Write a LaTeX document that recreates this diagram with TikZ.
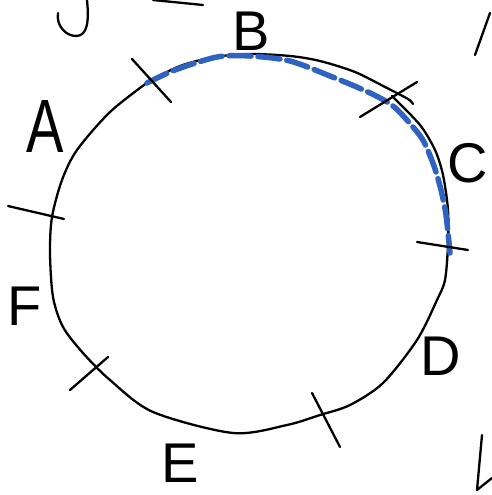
\documentclass[tikz,border=0pt]{standalone}
\usepackage{fontspec}
\setmainfont{Liberation Sans}
\definecolor{penblue}{HTML}{3063C0}
\tikzset{
  pen/.style={draw=black, line width=2.3pt, line cap=round, line join=round},
  bluepen/.style={draw=penblue, line width=5.5pt, line cap=round, line join=round, dash pattern=on 22pt off 7pt},
  lbl/.style={font=\fontsize{56}{56}\selectfont, inner sep=0pt}
}
\begin{document}
\begin{tikzpicture}[x=1pt,y=-1pt]
\useasboundingbox (0,0) rectangle (492,495);
% circle strokes
\draw[pen] plot[smooth] coordinates {(148,82) (180,66) (215,57) (250,54) (290,56) (320,61) (355,72) (385,87) (408,99) (413,104)};
\draw[pen] plot[smooth] coordinates {(392,96) (420,125) (435,150) (443,175) (448,210) (448,245) (445,280) (437,300) (417,340) (383,383) (350,405) (320,415) (287,425) (233,433) (153,412) (110,380) (83,353) (63,327) (53,297) (50,253) (52,217) (62,180) (77,150) (110,112) (148,82)};
% blue highlighted arc
\draw[bluepen] plot[smooth] coordinates {(147,83) (175,70) (217,57) (250,56) (290,61) (330,76) (368,92) (393,106) (413,127) (424,142) (434,166) (441,190) (446,215) (450,253)};
% ticks
\coordinate (t1a) at (132,59); \coordinate (t1b) at (171,102);
\coordinate (t2a) at (360,117); \coordinate (t2b) at (417,82);
\coordinate (t3a) at (417,242); \coordinate (t3b) at (468,250);
\coordinate (t4a) at (312,393); \coordinate (t4b) at (340,447);
\coordinate (t5a) at (108,357); \coordinate (t5b) at (70,390);
\coordinate (t6a) at (8,206); \coordinate (t6b) at (64,219);
\draw[pen] (t1a) -- (t1b);
\draw[pen] (t2a) -- (t2b);
\draw[pen] (t3a) -- (t3b);
\draw[pen] (t4a) -- (t4b);
\draw[pen] (t5a) -- (t5b);
\draw[pen] (t6a) -- (t6b);
% labels
\node[lbl, yscale=1.35] (A) at (45,126) {A};
\node[lbl] (B) at (251,31) {B};
\node[lbl] (C) at (468,163) {C};
\node[lbl] (D) at (441,356) {D};
\node[lbl] (E) at (180,463) {E};
\node[lbl] (F) at (25,306) {F};
% stray partial strokes at the edges
\draw[pen] (87,0) .. controls (89,20) and (88,36) .. (76,36) .. controls (66,36) and (56,26) .. (58,13);
\draw[pen] (153,0) -- (203,5);
\draw[pen] (490,13) -- (475,55);
\draw[pen] (482,435) -- (477,490) -- (492,478);
\end{tikzpicture}
\end{document}
